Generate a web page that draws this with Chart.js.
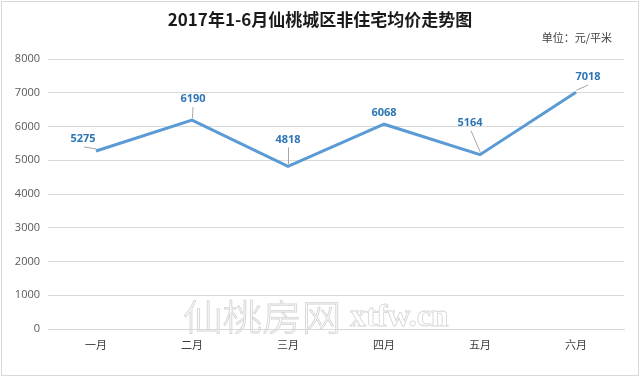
<!DOCTYPE html>
<html>
<head>
<meta charset="utf-8">
<script src="https://cdn.jsdelivr.net/npm/chart.js@4/dist/chart.umd.min.js"></script>
<style>
  html, body { margin: 0; padding: 0; background: #fff; }
  #wrap { width: 640px; height: 377px; }
</style>
</head>
<body>
<div id="wrap"><canvas id="lineChart" width="640" height="377"></canvas></div>
<script>
// 数据
var months = ['一月', '二月', '三月', '四月', '五月', '六月'];
var prices = [5275, 6190, 4818, 6068, 5164, 7018];
var yTicks = [0, 1000, 2000, 3000, 4000, 5000, 6000, 7000, 8000];
var titleText = '2017年1-6月仙桃城区非住宅均价走势图';
var unitText = '单位：元/平米';

// label placement relative to each point (dx, dy), with leader line flag
var labelOffsets = [[-13, -12, true], [1, -21, true], [0, -27, true], [0, -11, false], [-10, -32, true], [12, -15, true]];

var CJK = '"Noto Sans CJK SC", "Noto Sans", sans-serif';

var decor = {
    id: 'decor',
    beforeDraw: function (chart) {
        var ctx = chart.ctx;
        ctx.save();
        ctx.fillStyle = '#fff';
        ctx.fillRect(0, 0, chart.width, chart.height);
        // watermark
        ctx.strokeStyle = '#d4d4d4';
        ctx.lineWidth = 0.8;
        ctx.textBaseline = 'middle';
        ctx.textAlign = 'left';
        ctx.font = '300 36px ' + CJK;
        ctx.save();
        ctx.translate(183, 317);
        ctx.scale(1.1, 1);
        ctx.strokeText('仙桃房网', 0, 0);
        ctx.restore();
        ctx.font = 'bold 32px "Liberation Serif", "DejaVu Serif", serif';
        ctx.strokeText('xtfw.cn', 350, 318);
        ctx.restore();
    },
    afterDraw: function (chart) {
        var ctx = chart.ctx;
        ctx.save();
        // border
        ctx.strokeStyle = '#d9d9d9';
        ctx.lineWidth = 1;
        ctx.strokeRect(1.5, 1.5, chart.width - 3, chart.height - 3);
        // title
        ctx.fillStyle = '#1a1a1a';
        ctx.textAlign = 'center';
        ctx.textBaseline = 'middle';
        ctx.font = 'bold 17px ' + CJK;
        ctx.fillText(titleText, 320, 20);
        // unit
        ctx.fillStyle = '#404040';
        ctx.textAlign = 'right';
        ctx.font = '11px ' + CJK;
        ctx.fillText(unitText, 612, 38);
        // data labels
        var meta = chart.getDatasetMeta(0);
        ctx.font = 'bold 11px "Open Sans", "Liberation Sans", sans-serif';
        ctx.textAlign = 'center';
        meta.data.forEach(function (pt, i) {
            var off = labelOffsets[i];
            var lx = pt.x + off[0];
            var ly = pt.y + off[1];
            if (off[2]) {
                ctx.strokeStyle = '#a6a6a6';
                ctx.lineWidth = 1;
                ctx.beginPath();
                ctx.moveTo(lx + (off[0] === 0 ? 0.5 : (off[0] < 0 ? 1 : 0)), ly + 8);
                ctx.lineTo(pt.x + 0.5, pt.y - 2);
                ctx.stroke();
            }
            ctx.fillStyle = '#2e75b6';
            ctx.fillText(String(prices[i]), lx, ly);
        });
        ctx.restore();
    }
};

var ctx = document.getElementById('lineChart').getContext('2d');
var lineChart = new Chart(ctx, {
    type: 'line',
    data: {
        labels: months,
        datasets: [{
            label: '均价',
            data: prices,
            borderColor: '#5b9bd5',
            borderWidth: 3,
            pointRadius: 0,
            pointHoverRadius: 0,
            tension: 0,
            fill: false
        }]
    },
    options: {
        responsive: false,
        animation: false,
        layout: { padding: { left: 0, right: 16, top: 59, bottom: 0 } },
        plugins: {
            legend: { display: false },
            tooltip: { enabled: false }
        },
        scales: {
            x: {
                offset: true,
                grid: { display: false, drawTicks: false },
                border: { color: '#d9d9d9', width: 1 },
                ticks: { color: '#404040', font: { size: 11, family: CJK }, padding: 9 },
                afterFit: function (scale) { scale.height = 48; }
            },
            y: {
                min: 0,
                max: 8000,
                afterBuildTicks: function (scale) {
                    scale.ticks = yTicks.map(function (v) { return { value: v }; });
                },
                grid: { color: '#d9d9d9', drawTicks: false },
                border: { display: false },
                ticks: {
                    color: '#595959',
                    font: { size: 11, family: '"Open Sans", "Liberation Sans", sans-serif' },
                    padding: 8,
                    callback: function (v) { return String(v); }
                },
                afterFit: function (scale) { scale.width = 48; }
            }
        }
    },
    plugins: [decor]
});
</script>
</body>
</html>
